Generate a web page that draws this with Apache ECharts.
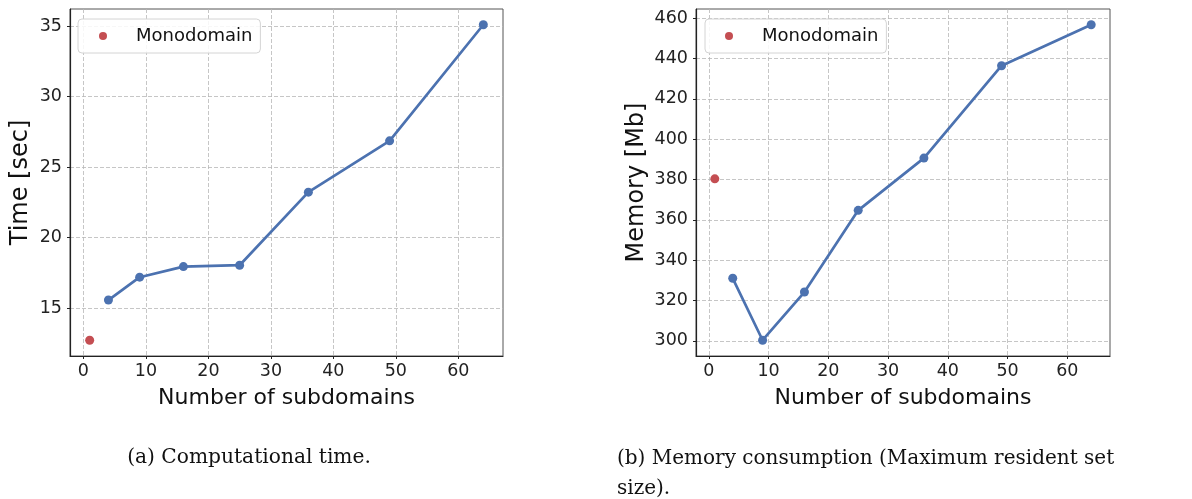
<!DOCTYPE html>
<html>
<head>
<meta charset="utf-8">
<script src="https://cdn.jsdelivr.net/npm/echarts@6/dist/echarts.min.js"></script>
<style>
  html, body { margin: 0; padding: 0; background: #fff; }
  #chart { width: 1192px; height: 499px; }
</style>
</head>
<body>
<div id="chart"></div>
<script>
// Subdomain counts (1 = monodomain run)
const monoCount = [1];
const subCounts = [4, 9, 16, 25, 36, 49, 64];

// Computational time [sec]
const timeMono = [12.72];
const timeSub = [15.57, 17.19, 17.94, 18.04, 23.22, 26.86, 35.09];

// Memory consumption [Mb]
const memMono = [380.3];
const memSub = [331.0, 300.3, 324.2, 364.7, 390.6, 436.4, 456.7];

// Tick labels
const xTicks = [0, 10, 20, 30, 40, 50, 60];
const timeTicks = [15, 20, 25, 30, 35];
const memTicks = [300, 320, 340, 360, 380, 400, 420, 440, 460];

const BLUE = '#4c72b0';
const RED = '#c44e52';
const FONT = 'DejaVu Sans';
const CAPTION_FONT = 'DejaVu Serif';

function pairs(xs, ys) { return xs.map((x, i) => [x, ys[i]]); }

// matplotlib-like 5% margins around the data
function padded(values) {
  const lo = Math.min(...values), hi = Math.max(...values);
  const m = (hi - lo) * 0.05;
  return [lo - m, hi + m];
}

const xRange = padded(monoCount.concat(subCounts));
const tRange = padded(timeMono.concat(timeSub));
const mRange = padded(memMono.concat(memSub));

const gridLine = { color: '#b8b8b8', type: [4, 2], width: 0.8 };

function xAxisFor(gridIndex) {
  return {
    type: 'value', gridIndex,
    min: xRange[0], max: xRange[1],
    name: 'Number of subdomains', nameLocation: 'middle', nameGap: 31,
    nameTextStyle: { fontFamily: FONT, fontSize: 22, color: '#111' },
    axisLine: { show: true, onZero: false, lineStyle: { color: '#222', width: 1.2 } },
    axisTick: { show: true, length: 3, customValues: xTicks, lineStyle: { color: '#222' } },
    axisLabel: { customValues: xTicks, margin: 6, fontFamily: FONT, fontSize: 17.5, color: '#222' },
    splitLine: { show: true, customValues: xTicks, lineStyle: gridLine }
  };
}

function yAxisFor(gridIndex, range, ticks, name, nameGap) {
  return {
    type: 'value', gridIndex,
    min: range[0], max: range[1],
    name, nameLocation: 'middle', nameGap,
    nameTextStyle: { fontFamily: FONT, fontSize: 24, color: '#111' },
    axisLine: { show: true, onZero: false, lineStyle: { color: '#222', width: 1.2 } },
    axisTick: { show: true, length: 3, customValues: ticks, lineStyle: { color: '#222' } },
    axisLabel: { customValues: ticks, margin: 8, fontFamily: FONT, fontSize: 17.5, color: '#222' },
    splitLine: { show: true, customValues: ticks, lineStyle: gridLine }
  };
}

function legendAt(left, padLeft) {
  return {
    left, top: 19,
    orient: 'vertical',
    data: [{ name: 'Monodomain', icon: 'circle' }],
    itemWidth: 26, itemHeight: 8,
    padding: [8, 8, 8, padLeft],
    backgroundColor: 'rgba(255,255,255,0.85)',
    borderColor: '#d4d4d4', borderWidth: 1, borderRadius: 4,
    textStyle: { fontFamily: FONT, fontSize: 18, color: '#111', padding: [0, 0, 0, 15] },
    selectedMode: false
  };
}

const lineSeries = (xi, ys) => ({
  type: 'line', name: 'Subdomains', xAxisIndex: xi, yAxisIndex: xi,
  data: pairs(subCounts, ys),
  symbol: 'circle', symbolSize: 9,
  itemStyle: { color: BLUE, opacity: 1 },
  lineStyle: { color: BLUE, width: 2.7 },
  z: 3
});

const monoSeries = (xi, ys) => ({
  type: 'scatter', name: 'Monodomain', xAxisIndex: xi, yAxisIndex: xi,
  data: pairs(monoCount, ys),
  symbol: 'circle', symbolSize: 9,
  itemStyle: { color: RED, opacity: 1 },
  z: 3
});

const chart = echarts.init(document.getElementById('chart'));
chart.setOption({
  animation: false,
  backgroundColor: '#fff',
  grid: [
    { left: 70, right: 689, top: 9, bottom: 143, show: true, borderColor: '#555', borderWidth: 1 },
    { left: 696, right: 82, top: 9, bottom: 143, show: true, borderColor: '#555', borderWidth: 1 }
  ],
  xAxis: [xAxisFor(0), xAxisFor(1)],
  yAxis: [
    yAxisFor(0, tRange, timeTicks, 'Time [sec]', 37),
    yAxisFor(1, mRange, memTicks, 'Memory [Mb]', 47)
  ],
  legend: [legendAt(78, 21), legendAt(705, 20)],
  title: [
    {
      text: '(a) Computational time.',
      left: 244, top: 443, textAlign: 'center',
      textStyle: { fontFamily: CAPTION_FONT, fontSize: 20.2, fontWeight: 'normal', color: '#111' }
    },
    {
      text: '(b) Memory consumption (Maximum resident set\nsize).',
      left: 612, top: 439,
      textStyle: { fontFamily: CAPTION_FONT, fontSize: 20, fontWeight: 'normal', color: '#111', lineHeight: 30 }
    }
  ],
  series: [
    lineSeries(0, timeSub), monoSeries(0, timeMono),
    lineSeries(1, memSub), monoSeries(1, memMono)
  ]
});
</script>
</body>
</html>
